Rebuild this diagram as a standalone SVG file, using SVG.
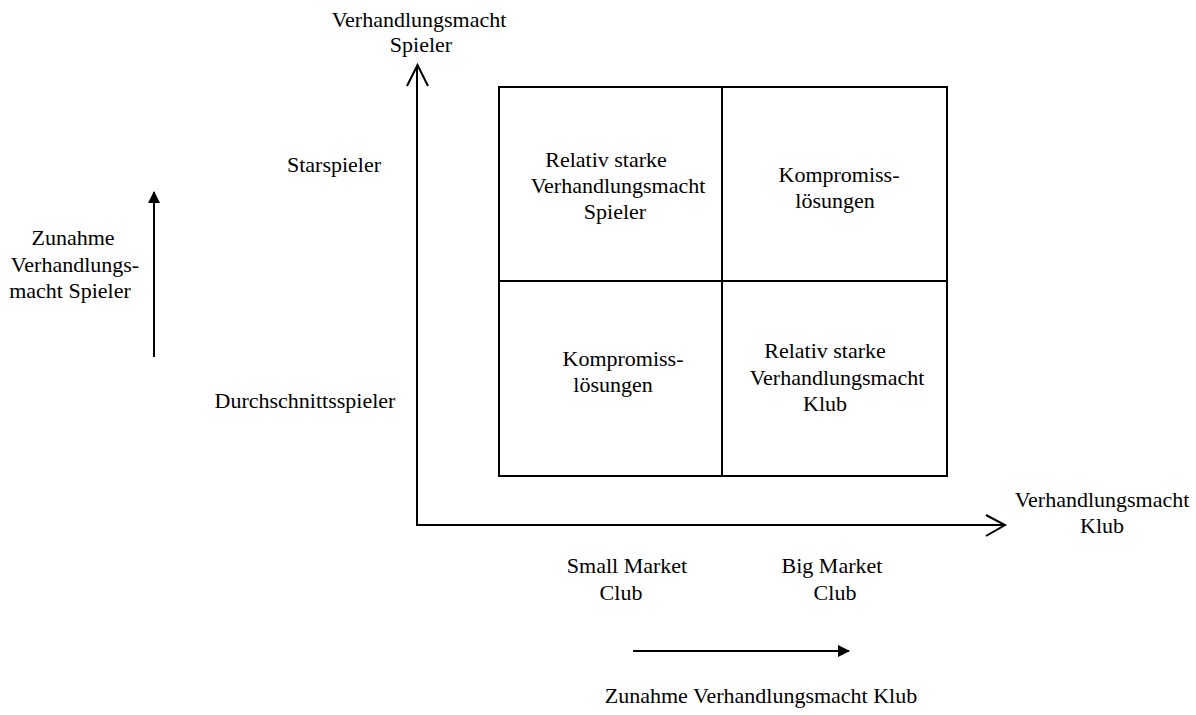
<svg xmlns="http://www.w3.org/2000/svg" width="1196" height="715" viewBox="0 0 1196 715">
<style>
text{font-family:"Liberation Serif","Times New Roman",serif;font-size:22px;fill:#000;text-anchor:middle}
.ln{stroke:#000;stroke-width:2;fill:none}
</style>
<defs>
<marker id="fill" viewBox="0 0 12 12" refX="11" refY="6" markerWidth="12" markerHeight="12" markerUnits="userSpaceOnUse" orient="auto">
<path d="M0,0 L12,6 L0,12 Z" fill="#000"/>
</marker>
</defs>
<rect width="1196" height="715" fill="#fff"/>
<g id="connectors">
<path class="ln" d="M417,525 V66 M407,86 L417.5,65 L428,86"/>
<path class="ln" d="M416,525 H1003 M986,515 L1005,525 L986,536"/>
<line class="ln" x1="154" y1="357" x2="154" y2="192" marker-end="url(#fill)"/>
<line class="ln" x1="633" y1="651" x2="849" y2="651" marker-end="url(#fill)"/>
</g>
<g id="matrix">
<rect class="ln" x="499" y="87" width="448" height="389"/>
<line class="ln" x1="722" y1="87" x2="722" y2="476"/>
<line class="ln" x1="499" y1="281" x2="947" y2="281"/>
</g>
<g id="cell-tl"><text x="606" y="167">Relativ starke</text><text x="618" y="193">Verhandlungsmacht</text><text x="615" y="219">Spieler</text></g>
<g id="cell-tr"><text x="839" y="182">Kompromiss-</text><text x="835" y="208">lösungen</text></g>
<g id="cell-bl"><text x="623" y="366">Kompromiss-</text><text x="613" y="392">lösungen</text></g>
<g id="cell-br"><text x="825" y="358">Relativ starke</text><text x="837" y="385">Verhandlungsmacht</text><text x="825" y="411">Klub</text></g>
<g id="y-axis-label"><text x="419" y="27">Verhandlungsmacht</text><text x="421" y="52">Spieler</text></g>
<g id="x-axis-label"><text x="1102" y="507">Verhandlungsmacht</text><text x="1102" y="533">Klub</text></g>
<g id="starspieler"><text x="334" y="172">Starspieler</text></g>
<g id="durchschnitt"><text x="305" y="408">Durchschnittsspieler</text></g>
<g id="zunahme-spieler"><text x="73" y="245">Zunahme</text><text x="75" y="272">Verhandlungs-</text><text x="70" y="298">macht Spieler</text></g>
<g id="small-market"><text x="627" y="573">Small Market</text><text x="621" y="600">Club</text></g>
<g id="big-market"><text x="832" y="573">Big Market</text><text x="835" y="600">Club</text></g>
<g id="zunahme-klub"><text x="761" y="703">Zunahme Verhandlungsmacht Klub</text></g>
</svg>
